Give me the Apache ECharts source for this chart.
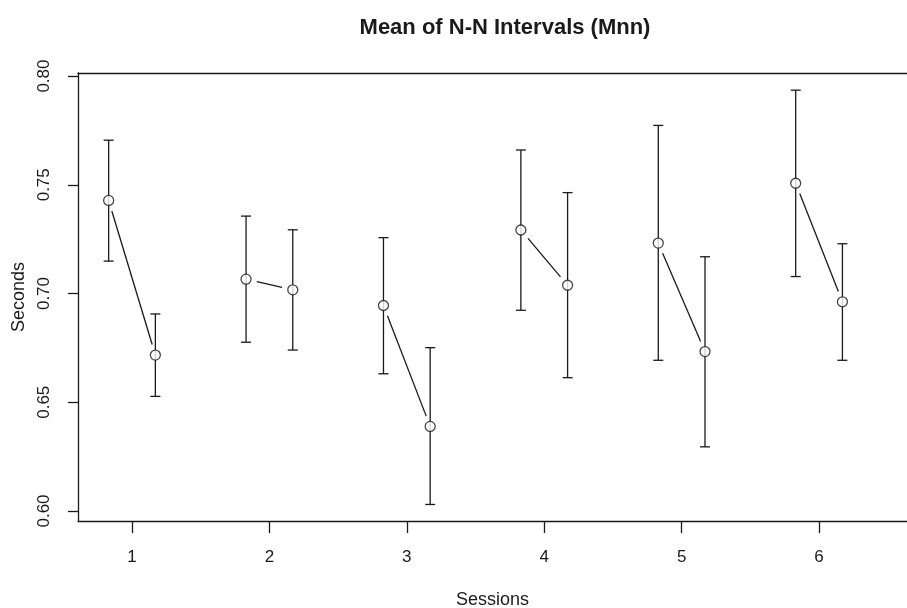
<!DOCTYPE html>
<html>
<head>
<meta charset="utf-8">
<script src="https://cdn.jsdelivr.net/npm/echarts@6/dist/echarts.min.js"></script>
<style>
html, body { margin: 0; padding: 0; background: #fff; }
#chart { width: 907px; height: 608px; }
</style>
</head>
<body>
<div id="chart"></div>
<script>
// sessions and the two measurements per session (before / after)
const sessions = [1, 2, 3, 4, 5, 6]
const preMean = [0.7428, 0.7066, 0.6945, 0.7292, 0.7232, 0.7507]
const preLow = [0.7149, 0.6776, 0.6631, 0.6923, 0.6693, 0.7078]
const preHigh = [0.7705, 0.7356, 0.7257, 0.7660, 0.7773, 0.7935]
const postMean = [0.6717, 0.7017, 0.6389, 0.7038, 0.6733, 0.6962]
const postLow = [0.6527, 0.6740, 0.6030, 0.6613, 0.6295, 0.6693]
const postHigh = [0.6906, 0.7293, 0.6751, 0.7464, 0.7169, 0.7229]
const yTicks = [0.60, 0.65, 0.70, 0.75, 0.80]
const shift = 0.17

const ink = '#1a1a1a'
const font = 'Liberation Sans, Arial, Helvetica, sans-serif'

// error bars: [x, mean, low, high]
const bars = []
const pts = []
const links = []
sessions.forEach((s, i) => {
  bars.push([s - shift, preMean[i], preLow[i], preHigh[i]])
  bars.push([s + shift, postMean[i], postLow[i], postHigh[i]])
  pts.push([s - shift, preMean[i]])
  pts.push([s + shift, postMean[i]])
  links.push([s - shift, preMean[i], s + shift, postMean[i]])
})

const chart = echarts.init(document.getElementById('chart'))
const lineSt = { color: ink, width: 1.3 }

chart.setOption({
  animation: false,
  title: {
    text: 'Mean of N-N Intervals (Mnn)',
    left: 500,
    textAlign: 'center',
    top: 12,
    textStyle: { fontFamily: font, fontSize: 22, fontWeight: 'bold', color: ink }
  },
  grid: {
    left: 78,
    top: 73,
    right: 0,
    bottom: 87,
    containLabel: false,
    outerBoundsMode: 'none'
  },
  xAxis: [
    {
      type: 'value',
      min: 0.607,
      max: 6.64,
      name: 'Sessions',
      nameLocation: 'middle',
      nameGap: 70,
      nameTextStyle: { fontFamily: font, fontSize: 18, color: ink },
      axisLine: { show: true, onZero: false, lineStyle: lineSt },
      splitLine: { show: false },
      axisTick: { show: true, length: 12, customValues: sessions, lineStyle: lineSt },
      axisLabel: { customValues: sessions, margin: 28, fontFamily: font, fontSize: 17, color: ink }
    },
    {
      // top edge of the frame
      type: 'value',
      position: 'top',
      min: 0.607,
      max: 6.64,
      axisLine: { show: true, onZero: false, lineStyle: lineSt },
      axisTick: { show: false },
      axisLabel: { show: false },
      splitLine: { show: false }
    }
  ],
  yAxis: {
    type: 'value',
    min: 0.5954,
    max: 0.8014,
    name: 'Seconds',
    nameLocation: 'middle',
    nameRotate: 90,
    nameGap: 44,
    nameTextStyle: { fontFamily: font, fontSize: 18, color: ink },
    axisLine: { show: true, onZero: false, lineStyle: lineSt },
    splitLine: { show: false },
    axisTick: { show: true, length: 10, customValues: yTicks, lineStyle: lineSt },
    axisLabel: {
      customValues: yTicks,
      rotate: 90,
      margin: 25,
      fontFamily: font,
      fontSize: 17,
      color: ink,
      formatter: v => v.toFixed(2)
    }
  },
  series: [
    {
      type: 'custom',
      data: bars,
      renderItem: (params, api) => {
        const top = api.coord([api.value(0), api.value(3)])
        const bot = api.coord([api.value(0), api.value(2)])
        const w = 5
        const st = { stroke: ink, lineWidth: 1.3 }
        return {
          type: 'group',
          children: [
            { type: 'line', shape: { x1: top[0], y1: top[1], x2: bot[0], y2: bot[1] }, style: st },
            { type: 'line', shape: { x1: top[0] - w, y1: top[1], x2: top[0] + w, y2: top[1] }, style: st },
            { type: 'line', shape: { x1: bot[0] - w, y1: bot[1], x2: bot[0] + w, y2: bot[1] }, style: st }
          ]
        }
      }
    },
    {
      type: 'custom',
      data: links,
      renderItem: (params, api) => {
        const a = api.coord([api.value(0), api.value(1)])
        const b = api.coord([api.value(2), api.value(3)])
        const dx = b[0] - a[0]
        const dy = b[1] - a[1]
        const len = Math.sqrt(dx * dx + dy * dy)
        const gap = 11
        if (len <= gap * 2) return null
        const ux = dx / len
        const uy = dy / len
        return {
          type: 'line',
          shape: { x1: a[0] + ux * gap, y1: a[1] + uy * gap, x2: b[0] - ux * gap, y2: b[1] - uy * gap },
          style: { stroke: ink, lineWidth: 1.3 }
        }
      }
    },
    {
      type: 'scatter',
      data: pts,
      symbol: 'circle',
      symbolSize: 10,
      itemStyle: { color: '#fff', borderColor: ink, borderWidth: 1.3 },
      z: 5
    }
  ]
})
</script>
</body>
</html>
